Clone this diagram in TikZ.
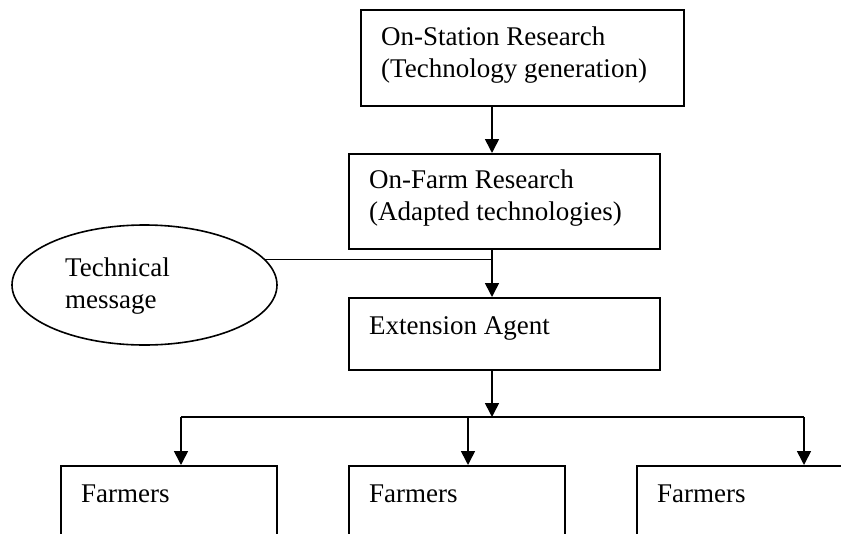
\documentclass[tikz,border=0pt]{standalone}
\usepackage{fontspec}
\setmainfont{Liberation Serif}
\usetikzlibrary{arrows.meta,calc,shapes.geometric}
\begin{document}
\begin{tikzpicture}[x=1pt,y=-1pt,
  every node/.style={font=\fontsize{27}{32.5}\selectfont},
  box/.style={draw,line width=1.6pt,rectangle,anchor=north west,inner sep=0pt},
  txt/.style={anchor=base west,inner sep=0pt},
  conn/.style={line width=1.6pt},
  arr/.style={conn,-{Triangle[length=14pt,width=14pt]}},
]
\useasboundingbox (0,0) rectangle (841,533);
\clip (0,0) rectangle (841,533);
% boxes
\node[box,minimum width=323pt,minimum height=96pt] (os) at (360,9) {};
\node[box,minimum width=311pt,minimum height=95pt] (ofr) at (348,153) {};
\node[box,minimum width=311pt,minimum height=72pt] (ext) at (348,297) {};
\node[draw,line width=1.6pt,ellipse,inner sep=0pt,minimum width=265pt,minimum height=120pt] (msg) at (144.5,285) {};
\node[box,minimum width=216pt,minimum height=110pt] (f1) at (60,465) {};
\node[box,minimum width=216pt,minimum height=110pt] (f2) at (348,465) {};
\node[box,minimum width=216pt,minimum height=110pt] (f3) at (636,465) {};
% texts
\node[txt] (tos) at ($(os.north west)+(21,36)$) {\begin{tabular}[t]{@{}l@{}}On-Station Research\\(Technology generation)\end{tabular}};
\node[txt] (tofr) at ($(ofr.north west)+(21,35)$) {\begin{tabular}[t]{@{}l@{}}On-Farm Research\\(Adapted technologies)\end{tabular}};
\node[txt] (text) at ($(ext.north west)+(21,37)$) {Extension Agent};
\node[txt] (tmsg) at (65,276) {\begin{tabular}[t]{@{}l@{}}Technical\\message\end{tabular}};
\node[txt] (tf1) at ($(f1.north west)+(21,37)$) {Farmers};
\node[txt] (tf2) at ($(f2.north west)+(21,37)$) {Farmers};
\node[txt] (tf3) at ($(f3.north west)+(21,37)$) {Farmers};
% coordinates
\coordinate (spine) at (492,0);
\coordinate (bus) at (0,417);
\coordinate (x1) at (181,0);
\coordinate (x2) at (468,0);
\coordinate (x3) at (804,0);
% connectors
\draw[arr] (os.south -| spine) -- (ofr.north -| spine);
\draw[arr] (ofr.south -| spine) -- (ext.north -| spine);
\draw[conn] (msg.12) -- (msg.12 -| spine);
\draw[arr] (ext.south -| spine) -- (bus -| spine);
\draw[conn] (bus -| x1) -- (bus -| x3);
\draw[arr] (bus -| x1) -- (f1.north -| x1);
\draw[arr] (bus -| x2) -- (f2.north -| x2);
\draw[arr] (bus -| x3) -- (f3.north -| x3);
\end{tikzpicture}
\end{document}
